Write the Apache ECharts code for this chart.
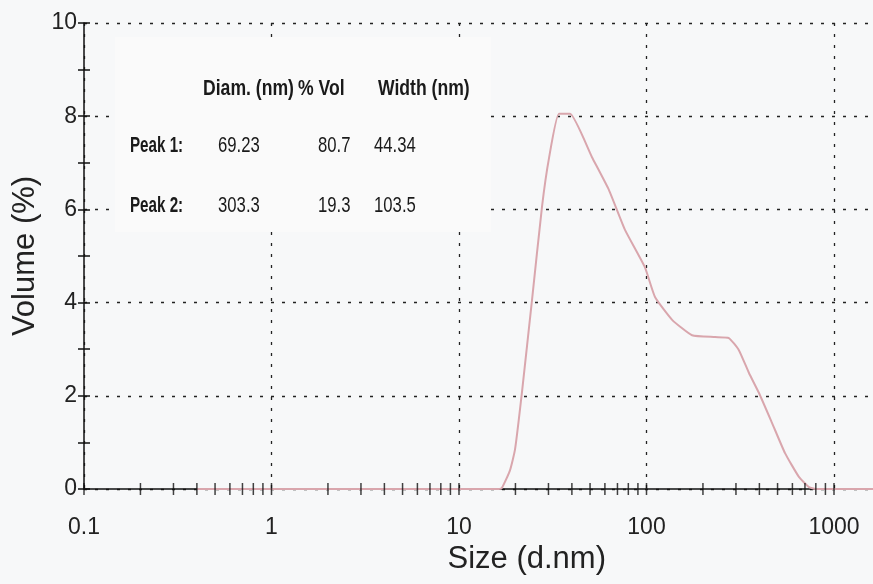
<!DOCTYPE html>
<html>
<head>
<meta charset="utf-8">
<script src="https://cdn.jsdelivr.net/npm/echarts@6/dist/echarts.min.js"></script>
<style>html,body{margin:0;padding:0;background:#f7f8f9}#c{width:873px;height:584px}</style>
</head>
<body>
<div id="c"></div>
<script>
// Size distribution by volume
var sizes  = [0.4, 1, 5, 10, 15.7, 16.9, 18.7, 19.9, 21.7, 24.5, 27.7, 30.2, 34.1, 39.1, 51.2, 63, 76.8, 98, 111, 137, 175, 232, 275, 311, 352, 398, 467, 548, 650, 736, 800, 1000, 2000, 5000, 10000];
var volume = [0,   0, 0, 0,  0,    0.02, 0.4, 0.85, 2.1, 4.05, 6.05, 7.1, 8.05, 8.05, 7.12, 6.42, 5.56, 4.76, 4.12, 3.63, 3.30, 3.26, 3.24, 2.98, 2.49, 2.06, 1.42, 0.77, 0.26, 0.04, 0, 0, 0, 0, 0];

// Table of peaks
var tableHeader = ['Diam. (nm)', '% Vol', 'Width (nm)'];
var peakNames = ['Peak 1:', 'Peak 2:'];
var peakDiam  = ['69.23', '303.3'];
var peakVol   = ['80.7', '19.3'];
var peakWidth = ['44.34', '103.5'];

// Axis ticks
var xMinorTicks = [];
[0.1, 1, 10, 100, 1000].forEach(function (d) {
  for (var k = 1; k <= 9; k++) xMinorTicks.push(+(k * d).toPrecision(3));
});
xMinorTicks.push(10000);

var chart = echarts.init(document.getElementById('c'));
var gridColor = '#222';
var txt = '#222';

var graphics = [
  { type: 'rect', shape: { x: 115, y: 37, width: 376, height: 195 }, style: { fill: '#fafafa' }, z: 1, silent: true }
];
function addText(s, x, y, bold, sx) {
  graphics.push({
    type: 'text', x: x, y: y, scaleX: sx, z: 3,
    style: { text: s, font: (bold ? 'bold ' : '') + '22px "Liberation Sans", Arial, sans-serif', fill: '#1a1a1a', textVerticalAlign: 'middle', textAlign: 'left' }
  });
}
var colX = [203, 298, 378];
tableHeader.forEach(function (h, i) { addText(h, colX[i], 89, true, 0.8); });
var rowY = [146, 206];
peakNames.forEach(function (n, r) {
  addText(n, 130, rowY[r], true, 0.69);
  addText(peakDiam[r], 218, rowY[r], false, 0.76);
  addText(peakVol[r], 318, rowY[r], false, 0.76);
  addText(peakWidth[r], 374, rowY[r], false, 0.76);
});

chart.setOption({
  backgroundColor: '#f7f8f9',
  animation: false,
  grid: { left: 84, top: 23, width: 937.5, height: 466, outerBoundsMode: 'none', containLabel: false },
  xAxis: {
    type: 'log', logBase: 10, min: 0.1, max: 10000,
    name: 'Size (d.nm)', nameLocation: 'middle', nameGap: 46,
    nameTextStyle: { fontSize: 31, color: txt, fontFamily: 'Liberation Sans, Arial, sans-serif', padding: [0, 52, 0, 0] },
    axisLine: { show: true, onZero: false, lineStyle: { color: '#111', width: 1.5 } },
    axisTick: { show: false },
    axisLabel: { fontSize: 23, color: txt, margin: 27, fontFamily: 'Liberation Sans, Arial, sans-serif',
      formatter: function (v) { return String(+v.toPrecision(3)); } },
    splitLine: { show: true, lineStyle: { color: gridColor, type: [3, 8], width: 1.3 } },
    minorTick: { show: false }
  },
  yAxis: [{
    type: 'value', min: 0, max: 10, interval: 2,
    name: 'Volume (%)', nameLocation: 'middle', nameGap: 32,
    nameTextStyle: { fontSize: 31, color: txt, fontFamily: 'Liberation Sans, Arial, sans-serif' },
    axisLine: { show: true, lineStyle: { color: '#111', width: 1.5 } },
    axisTick: { show: true, length: 6, lineStyle: { color: '#111', width: 1.5 } },
    minorTick: { show: true, splitNumber: 2, length: 6, lineStyle: { color: '#111', width: 1.5 } },
    axisLabel: { fontSize: 23, color: txt, margin: 7, fontFamily: 'Liberation Sans, Arial, sans-serif' },
    splitLine: { show: true, lineStyle: { color: gridColor, type: [3, 8], width: 1.3 } }
  }, {
    type: 'value', min: 0, max: 10, interval: 2, position: 'left',
    axisLine: { show: false },
    axisTick: { show: true, inside: true, length: 6, lineStyle: { color: '#111', width: 1.5 } },
    minorTick: { show: true, splitNumber: 2, length: 6, lineStyle: { color: '#111', width: 1.5 } },
    axisLabel: { show: false },
    splitLine: { show: false }
  }],
  graphic: graphics,
  series: [{
    name: 'Volume', type: 'line', z: 4,
    data: sizes.map(function (s, i) { return [s, volume[i]]; }),
    showSymbol: false, symbol: 'none',
    smooth: 0.15,
    lineStyle: { color: '#d9a6ad', width: 2 }
  }, {
    name: 'ticks', type: 'scatter', z: 5, clip: false, silent: true,
    data: xMinorTicks.map(function (v) { return [v, 0]; }),
    symbol: 'rect', symbolSize: [1.5, 12],
    itemStyle: { color: '#111' }
  }]
});
</script>
</body>
</html>
